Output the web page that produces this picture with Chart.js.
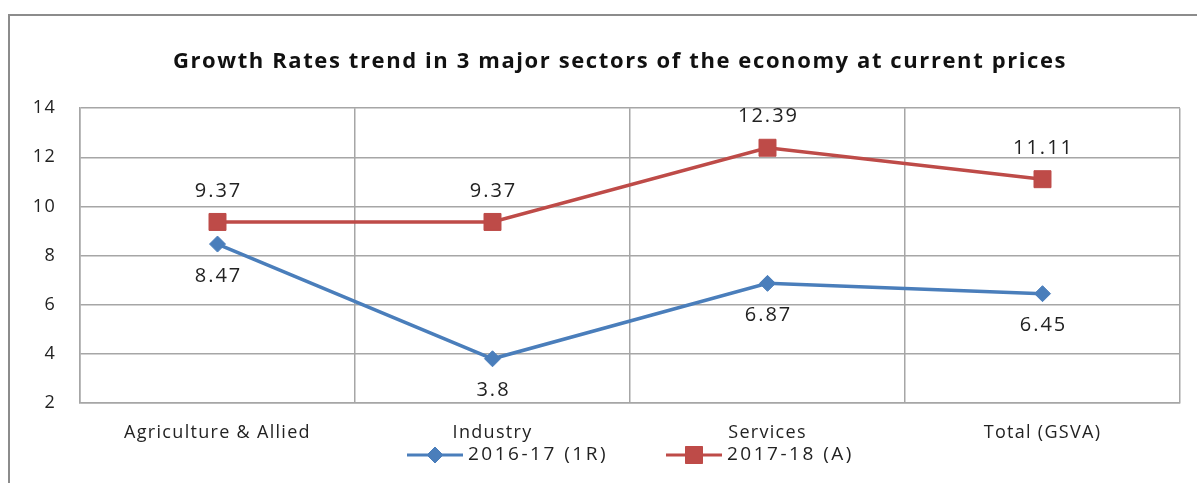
<!DOCTYPE html>
<html>
<head>
<meta charset="utf-8">
<script src="https://cdn.jsdelivr.net/npm/chart.js@4.4.0/dist/chart.umd.min.js"></script>
<style>
  html, body { margin: 0; padding: 0; background: #fff; }
  #wrap { width: 1197px; height: 483px; }
</style>
</head>
<body>
<div id="wrap"><canvas id="chart" width="1197" height="483"></canvas></div>
<script>
'use strict';

let sectors = ['Agriculture & Allied', 'Industry', 'Services', 'Total (GSVA)'];
let growth2016 = [8.47, 3.8, 6.87, 6.45];
let growth2017 = [9.37, 9.37, 12.39, 11.11];
let yTicks = [2, 4, 6, 8, 10, 12, 14];

let blue = '#4A7EBB';
let red = '#BE4B48';
let fontName = 'Open Sans';
let titleText = 'Growth Rates trend in 3 major sectors of the economy at current prices';

// frame around the whole chart + the wide office-style text spacing
let framePlugin = {
  id: 'frame',
  beforeDraw(chart) {
    let ctx = chart.ctx;
    ctx.save();
    ctx.strokeStyle = '#8c8c8c';
    ctx.lineWidth = 2;
    ctx.strokeRect(9, 15, chart.width + 20, chart.height + 20);
    ctx.restore();
    ctx.letterSpacing = '1.3px';
  },
  afterDraw(chart) {
    let ctx = chart.ctx;
    ctx.save();
    ctx.letterSpacing = '1.6px';
    ctx.font = 'bold 22px ' + fontName;
    ctx.fillStyle = '#111';
    ctx.textAlign = 'center';
    ctx.textBaseline = 'middle';
    ctx.fillText(titleText, 620, 62);
    ctx.restore();
  }
};

// value labels: red above the points, blue below
let labelPlugin = {
  id: 'valueLabels',
  afterDatasetsDraw(chart) {
    let ctx = chart.ctx;
    ctx.save();
    ctx.font = '20px ' + fontName;
    ctx.letterSpacing = '2px';
    ctx.fillStyle = '#222';
    ctx.textAlign = 'center';
    ctx.textBaseline = 'middle';
    chart.data.datasets.forEach((ds, i) => {
      let meta = chart.getDatasetMeta(i);
      meta.data.forEach((pt, j) => {
        let dy = i === 0 ? 32 : -31;
        ctx.fillText(String(ds.data[j]), pt.x + 1, pt.y + dy);
      });
    });
    ctx.restore();
  }
};

// legend with line + marker, under the axis labels
let legendPlugin = {
  id: 'lineLegend',
  afterDraw(chart) {
    let ctx = chart.ctx;
    let y = 455;
    ctx.save();
    ctx.font = '19px ' + fontName;
    ctx.letterSpacing = '2.5px';
    ctx.textBaseline = 'middle';
    ctx.textAlign = 'left';
    let items = [
      { x: 407, color: blue, style: 'rectRot', r: 8, text: chart.data.datasets[0].label },
      { x: 666, color: red, style: 'rect', r: 12, text: chart.data.datasets[1].label }
    ];
    items.forEach(it => {
      ctx.strokeStyle = it.color;
      ctx.lineWidth = 3;
      ctx.beginPath();
      ctx.moveTo(it.x, y);
      ctx.lineTo(it.x + 56, y);
      ctx.stroke();
      ctx.fillStyle = it.color;
      ctx.lineWidth = 1;
      Chart.helpers.drawPoint(ctx, { pointStyle: it.style, radius: it.r, borderWidth: 1 }, it.x + 28, y);
      ctx.fill();
      ctx.fillStyle = '#222';
      ctx.fillText(it.text, it.x + 61, y);
    });
    ctx.restore();
  }
};

let chartObj = {
  type: 'line',
  data: {
    labels: sectors,
    datasets: [{
      label: '2016-17 (1R)',
      data: growth2016,
      borderColor: blue,
      backgroundColor: blue,
      borderWidth: 3.5,
      pointStyle: 'rectRot',
      pointRadius: 8,
      pointBorderWidth: 1,
      tension: 0
    },
    {
      label: '2017-18 (A)',
      data: growth2017,
      borderColor: red,
      backgroundColor: red,
      borderWidth: 3.5,
      pointStyle: 'rect',
      pointRadius: 12,
      pointBorderWidth: 1,
      tension: 0
    }]
  },
  options: {
    responsive: false,
    animation: false,
    layout: { padding: { left: 0, right: 17, top: 0, bottom: 0 } },
    plugins: {
      legend: { display: false },
      tooltip: { enabled: false },
      // kept only for spacing, the text itself is drawn in framePlugin
      title: {
        display: true,
        text: titleText,
        color: 'rgba(0,0,0,0)',
        font: { family: fontName, size: 21, weight: 'bold', lineHeight: 1.2 },
        padding: { top: 49, bottom: 34 }
      }
    },
    scales: {
      x: {
        offset: true,
        grid: { offset: true, color: '#a6a6a6', lineWidth: 1.5, drawTicks: false },
        border: { color: '#a6a6a6', width: 1.5 },
        ticks: { color: '#222', font: { family: fontName, size: 18 }, padding: 19, maxRotation: 0 },
        afterFit(scale) { scale.height = 80; }
      },
      y: {
        min: 2,
        max: 14,
        afterBuildTicks(scale) { scale.ticks = yTicks.map(v => ({ value: v })); },
        grid: { color: '#a6a6a6', lineWidth: 1.5, drawTicks: false },
        border: { color: '#a6a6a6', width: 1.5 },
        ticks: { color: '#222', font: { family: fontName, size: 18 }, padding: 24 },
        afterFit(scale) { scale.width = 80; }
      }
    }
  },
  plugins: [framePlugin, labelPlugin, legendPlugin]
};

new Chart(document.getElementById('chart'), chartObj);
</script>
</body>
</html>
